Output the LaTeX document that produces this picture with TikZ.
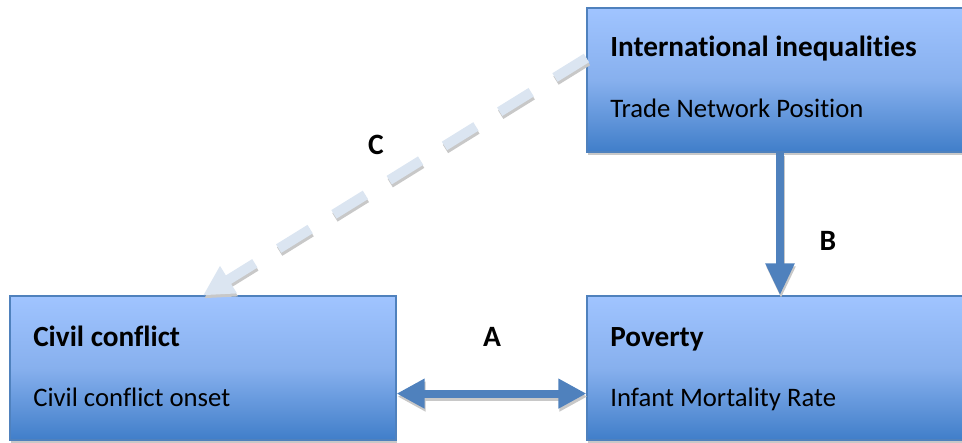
\documentclass[tikz,border=0pt]{standalone}
\usepackage{fontspec}
\setmainfont{Carlito}[Ligatures=NoCommon]
\usetikzlibrary{arrows.meta,shadows}
\definecolor{boxtop}{RGB}{160,196,255}
\definecolor{boxmid}{RGB}{135,176,238}
\definecolor{boxbot}{RGB}{64,126,201}
\definecolor{boxline}{RGB}{79,129,189}
\definecolor{dashblue}{RGB}{219,229,241}
\definecolor{shadowgray}{RGB}{200,200,200}

\tikzset{
  box/.style={draw=boxline, line width=0.8pt, top color=boxtop, bottom color=boxbot, middle color=boxmid,
    minimum width=9.65cm, minimum height=3.6cm, inner sep=0pt,
    drop shadow={shadow xshift=0.02cm, shadow yshift=-0.07cm, fill=shadowgray, opacity=1}},
  heading/.style={font=\fontsize{20.8}{24}\selectfont\bfseries, anchor=base west, inner sep=0pt},
  subline/.style={font=\fontsize{19}{22}\selectfont, anchor=base west, inner sep=0pt},
  tag/.style={font=\fontsize{21}{24}\selectfont\bfseries, anchor=base, inner sep=0pt},
  fatarrow/.style={line width=0.2cm},
  dasharrow/.style={line width=0.25cm, dash pattern=on 0.925cm off 0.7cm,
    -{Triangle[width=0.75cm,length=0.75cm]}},
  castshadow/.style={draw=shadowgray, transform canvas={shift={(0.025,-0.075)}}},
  tipsab/.style={{Triangle[width=0.7cm,length=0.7cm]}-{Triangle[width=0.7cm,length=0.7cm]}},
  tipb/.style={-{Triangle[width=0.675cm,length=0.8cm]}},
}

\begin{document}
\begin{tikzpicture}
        \useasboundingbox (0,0) rectangle (24.05,11.05);
        % boxes
        \node[box] (intl) at (19.5,9.05) {};
        \node[box] (civil) at (5.075,1.85) {};
        \node[box] (poverty) at (19.5,1.85) {};

        \node[heading] (intltitle) at (15.25,9.625) {International inequalities};
        \node[subline] (intlsub) at (15.25,8.1) {Trade Network Position};
        \node[heading] (civiltitle) at (0.825,2.383) {Civil conflict};
        \node[subline] (civilsub) at (0.825,0.883) {Civil conflict onset};
        \node[heading] (povertytitle) at (15.25,2.383) {Poverty};
        \node[subline] (povertysub) at (15.25,0.883) {Infant Mortality Rate};

        % links, shadow first
        \draw[fatarrow, tipsab, castshadow] ([yshift=-0.64cm]civil.east) -- ([yshift=-0.64cm]poverty.west);
        \draw[fatarrow, tipsab, draw=boxline] ([yshift=-0.64cm]civil.east) -- ([yshift=-0.64cm]poverty.west);
        \draw[fatarrow, tipb, castshadow] (intl.south) -- (poverty.north);
        \draw[fatarrow, tipb, draw=boxline] (intl.south) -- (poverty.north);
        \draw[dasharrow, castshadow] ([yshift=0.55cm]intl.west) -- (civil.north);
        \draw[dasharrow, draw=dashblue] ([yshift=0.55cm]intl.west) -- (civil.north);

        \node[tag] (taga) at (12.3,2.383) {A};
        \node[tag] (tagb) at (20.7,4.8) {B};
        \node[tag] (tagc) at (9.4,7.175) {C};
\end{tikzpicture}
\end{document}
